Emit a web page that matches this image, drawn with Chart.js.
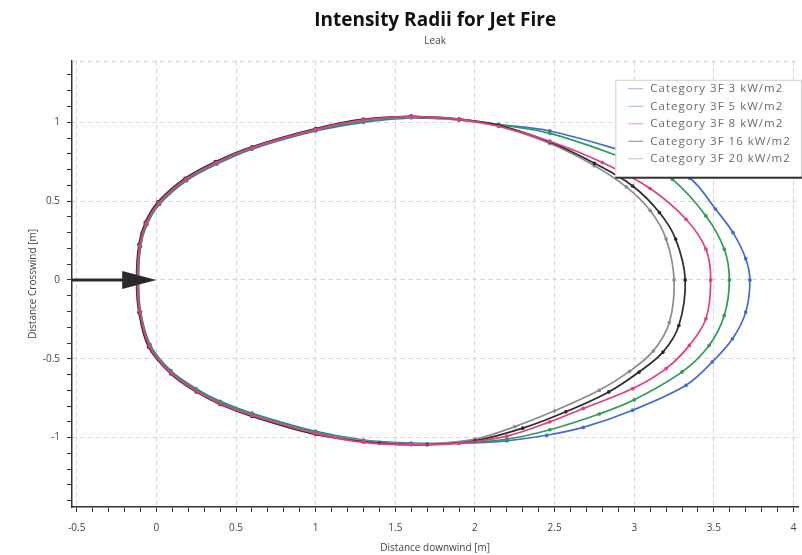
<!DOCTYPE html>
<html>
<head>
<meta charset="utf-8">
<title>Intensity Radii for Jet Fire</title>
<script src="https://cdn.jsdelivr.net/npm/chart.js@4.4.1/dist/chart.umd.min.js"></script>
<style>
  html, body { margin: 0; padding: 0; background: #fff; }
</style>
</head>
<body>
<canvas id="radiiChart" width="802" height="555"></canvas>
<script>
// Intensity radii, [downwind m, crosswind m], going round each contour
const cat3 = [
  [1.60, 1.030], [1.90, 1.015], [2.15, 0.985], [2.47, 0.945], [2.89, 0.830], [3.12, 0.750],
  [3.35, 0.645], [3.51, 0.450], [3.62, 0.300], [3.70, 0.135], [3.726, 0], [3.70, -0.204],
  [3.617, -0.373], [3.49, -0.520], [3.325, -0.668], [2.99, -0.826], [2.68, -0.935], [2.45, -0.985],
  [2.20, -1.020], [1.90, -1.035], [1.60, -1.035], [1.30, -1.015], [1.00, -0.960], [0.60, -0.845],
  [0.40, -0.770], [0.25, -0.690], [0.09, -0.575], [-0.04, -0.410], [-0.10, -0.200], [-0.112, 0],
  [-0.10, 0.210], [-0.06, 0.350], [0.02, 0.480], [0.19, 0.630], [0.38, 0.735], [0.60, 0.830],
  [1.00, 0.945], [1.30, 1.000], [1.60, 1.030]
];
const cat5 = [
  [1.60, 1.035], [1.90, 1.020], [2.15, 0.985], [2.47, 0.930], [2.89, 0.790], [3.10, 0.700],
  [3.24, 0.638], [3.45, 0.406], [3.565, 0.196], [3.597, 0], [3.565, -0.226], [3.47, -0.415],
  [3.30, -0.583], [3.00, -0.760], [2.78, -0.850], [2.47, -0.950], [2.20, -1.010], [1.90, -1.035],
  [1.60, -1.040], [1.30, -1.020], [1.00, -0.965], [0.60, -0.850], [0.40, -0.775], [0.25, -0.695],
  [0.09, -0.580], [-0.04, -0.415], [-0.10, -0.200], [-0.115, 0], [-0.10, 0.215], [-0.06, 0.355],
  [0.02, 0.485], [0.19, 0.635], [0.38, 0.740], [0.60, 0.835], [1.00, 0.950], [1.30, 1.005],
  [1.60, 1.035]
];
const cat8 = [
  [1.60, 1.040], [1.90, 1.020], [2.15, 0.975], [2.47, 0.880], [2.80, 0.745], [3.10, 0.580],
  [3.325, 0.385], [3.45, 0.196], [3.48, 0], [3.45, -0.246], [3.346, -0.415], [3.20, -0.562],
  [2.99, -0.689], [2.68, -0.815], [2.47, -0.900], [2.20, -0.990], [1.90, -1.035], [1.60, -1.045],
  [1.30, -1.030], [1.00, -0.975], [0.60, -0.860], [0.40, -0.785], [0.25, -0.705], [0.09, -0.590],
  [-0.045, -0.420], [-0.105, -0.200], [-0.12, 0], [-0.105, 0.220], [-0.065, 0.360], [0.015, 0.490],
  [0.185, 0.640], [0.375, 0.745], [0.60, 0.840], [1.00, 0.955], [1.30, 1.015], [1.60, 1.040]
];
const cat16 = [
  [1.60, 1.040], [1.90, 1.020], [2.15, 0.980], [2.47, 0.875], [2.75, 0.740], [2.99, 0.596],
  [3.158, 0.428], [3.26, 0.259], [3.32, 0], [3.28, -0.289], [3.18, -0.458], [3.03, -0.584],
  [2.84, -0.710], [2.57, -0.836], [2.30, -0.940], [2.00, -1.020], [1.70, -1.045], [1.40, -1.035],
  [1.00, -0.980], [0.60, -0.865], [0.40, -0.790], [0.25, -0.710], [0.09, -0.595], [-0.05, -0.425],
  [-0.11, -0.205], [-0.125, 0], [-0.11, 0.225], [-0.07, 0.365], [0.01, 0.495], [0.18, 0.645],
  [0.37, 0.750], [0.60, 0.845], [1.00, 0.960], [1.30, 1.020], [1.60, 1.040]
];
const cat20 = [
  [1.60, 1.035], [1.90, 1.015], [2.15, 0.975], [2.47, 0.865], [2.75, 0.725], [2.95, 0.590],
  [3.10, 0.440], [3.20, 0.260], [3.25, 0], [3.22, -0.270], [3.12, -0.450], [2.97, -0.580],
  [2.78, -0.700], [2.50, -0.830], [2.25, -0.930], [2.00, -1.010], [1.70, -1.040], [1.40, -1.030],
  [1.00, -0.975], [0.60, -0.860], [0.40, -0.785], [0.25, -0.705], [0.09, -0.590], [-0.045, -0.420],
  [-0.105, -0.200], [-0.12, 0], [-0.105, 0.220], [-0.065, 0.360], [0.015, 0.490], [0.185, 0.640],
  [0.375, 0.745], [0.60, 0.840], [1.00, 0.955], [1.30, 1.015], [1.60, 1.035]
];

const seriesLabels = [
  'Category 3F 3 kW/m2',
  'Category 3F 5 kW/m2',
  'Category 3F 8 kW/m2',
  'Category 3F 16 kW/m2',
  'Category 3F 20 kW/m2'
];

const xMajorTicks = [-0.5, 0, 0.5, 1, 1.5, 2, 2.5, 3, 3.5, 4];
const yMajorTicks = [-1, -0.5, 0, 0.5, 1];
const xRange = [-0.53, 4.03];
const yRange = [-1.44, 1.39];

// wind direction arrow (downwind m)
const arrowFrom = -0.53;
const arrowHeadBase = -0.215;
const arrowTo = 0;
const arrowY = 0;

const FONT = '"Open Sans", "Noto Sans", sans-serif';

function majorAt(v, majors) {
  return majors.find(m => Math.abs(m - v) < 1e-6);
}

function contour(label, pts, color, order) {
  return {
    label: label,
    data: pts.map(([x, y]) => ({x: x, y: y})),
    borderColor: color,
    backgroundColor: color,
    borderWidth: 1.7,
    pointRadius: 1,
    pointHoverRadius: 2,
    showLine: true,
    tension: 0.35,
    fill: false,
    order: order
  };
}

const windArrow = {
  id: 'windArrow',
  afterDatasetsDraw(chart) {
    const {ctx, scales: {x, y}} = chart;
    const x0 = x.getPixelForValue(arrowFrom);
    const xb = x.getPixelForValue(arrowHeadBase);
    const xt = x.getPixelForValue(arrowTo);
    const yc = y.getPixelForValue(arrowY);
    ctx.save();
    ctx.strokeStyle = '#2a2a2a';
    ctx.lineWidth = 3;
    ctx.beginPath();
    ctx.moveTo(x0, yc);
    ctx.lineTo(xb + 2, yc);
    ctx.stroke();
    ctx.fillStyle = '#2a2a2a';
    ctx.beginPath();
    ctx.moveTo(xb, yc - 9);
    ctx.lineTo(xt, yc);
    ctx.lineTo(xb, yc + 9);
    ctx.closePath();
    ctx.fill();
    ctx.restore();
  }
};

const plotFrame = {
  id: 'plotFrame',
  beforeDatasetsDraw(chart) {
    const {ctx, chartArea} = chart;
    ctx.save();
    ctx.strokeStyle = '#cfcfcf';
    ctx.lineWidth = 1;
    ctx.setLineDash([4, 4]);
    ctx.beginPath();
    ctx.moveTo(chartArea.left, chartArea.top + 0.5);
    ctx.lineTo(chartArea.right, chartArea.top + 0.5);
    ctx.stroke();
    ctx.restore();
  }
};

const boxLegend = {
  id: 'boxLegend',
  afterDraw(chart) {
    const {ctx, chartArea} = chart;
    const left = chartArea.right - 183;
    const top = chartArea.top + 19;
    const w = chart.width - left;
    const h = 98;
    ctx.save();
    ctx.fillStyle = '#ffffff';
    ctx.fillRect(left, top, w, h);
    ctx.strokeStyle = '#d0d0d0';
    ctx.lineWidth = 1;
    ctx.strokeRect(left + 0.5, top + 0.5, w - 1, h - 1);
    ctx.strokeStyle = '#333333';
    ctx.lineWidth = 2;
    ctx.beginPath();
    ctx.moveTo(left, top + h);
    ctx.lineTo(left + w, top + h);
    ctx.stroke();
    ctx.font = '11.5px ' + FONT;
    ctx.letterSpacing = '1px';
    ctx.textBaseline = 'middle';
    chart.data.datasets.forEach((ds, i) => {
      const yy = top + 9 + i * 17.5;
      ctx.strokeStyle = ds.borderColor;
      ctx.globalAlpha = 0.55;
      ctx.lineWidth = 1;
      ctx.beginPath();
      ctx.moveTo(left + 13, yy);
      ctx.lineTo(left + 28, yy);
      ctx.stroke();
      ctx.globalAlpha = 1;
      ctx.fillStyle = '#6a6a6a';
      ctx.fillText(ds.label, left + 35, yy);
    });
    ctx.restore();
  }
};

function axis(range, majors, titleText, titlePad, tickPad, fit) {
  return {
    type: 'linear',
    min: range[0],
    max: range[1],
    afterFit: fit,
    ticks: {
      stepSize: 0.1,
      includeBounds: false,
      autoSkip: false,
      maxRotation: 0,
      padding: tickPad,
      color: '#444',
      font: {family: FONT, size: 10},
      callback: v => {
        const m = majorAt(v, majors);
        return m === undefined ? '' : String(m);
      }
    },
    grid: {
      color: c => (c.tick && majorAt(c.tick.value, majors) !== undefined) ? '#d2d2d2' : 'rgba(0,0,0,0)',
      lineWidth: 1,
      tickColor: '#333',
      tickLength: 5,
      tickBorderDash: [],
      tickWidth: 1
    },
    border: {display: true, color: '#333', width: 1.5, dash: [4, 4]},
    title: {
      display: true,
      text: titleText,
      color: '#444',
      font: {family: FONT, size: 10},
      padding: titlePad
    }
  };
}

new Chart(document.getElementById('radiiChart'), {
  type: 'scatter',
  data: {
    datasets: [
      contour(seriesLabels[0], cat3, '#4169d8', 5),
      contour(seriesLabels[1], cat5, '#2e9b57', 4),
      contour(seriesLabels[2], cat8, '#e23d7e', 1),
      contour(seriesLabels[3], cat16, '#2b2b2b', 2),
      contour(seriesLabels[4], cat20, '#8c8c8c', 3)
    ]
  },
  options: {
    responsive: false,
    animation: false,
    layout: {padding: {left: 27, right: 2, top: 0, bottom: 0}},
    plugins: {
      legend: {display: false},
      tooltip: {enabled: false},
      title: {
        display: true,
        text: 'Intensity Radii for Jet Fire',
        fullSize: false,
        color: '#111',
        font: {family: FONT, size: 19, weight: 'bold'},
        padding: {top: 9, bottom: 0}
      },
      subtitle: {
        display: true,
        text: 'Leak',
        fullSize: false,
        color: '#444',
        font: {family: FONT, size: 10},
        padding: {top: 3, bottom: 14}
      }
    },
    scales: {
      x: axis(xRange, xMajorTicks, 'Distance downwind [m]', {top: 8, bottom: 1}, 10, s => {
        s.height = 48;
        s.paddingLeft = 0;
        s.paddingRight = 0;
      }),
      y: axis(yRange, yMajorTicks, 'Distance Crosswind [m]', {top: 0, bottom: 0}, 7, s => { s.width = 45; })
    }
  },
  plugins: [plotFrame, windArrow, boxLegend]
});
</script>
</body>
</html>
